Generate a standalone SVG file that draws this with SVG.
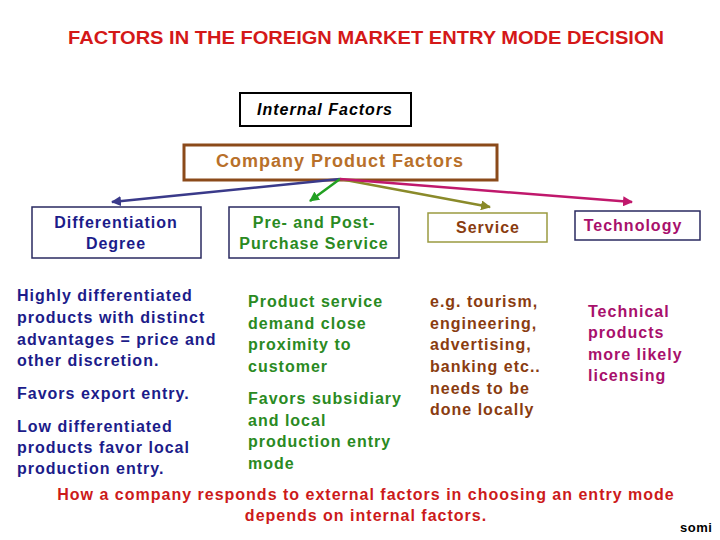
<svg xmlns="http://www.w3.org/2000/svg" width="720" height="540" viewBox="0 0 720 540">
<defs>
<style>
text{font-family:"Liberation Sans",Arial,sans-serif;}
.t{font-size:18px;font-weight:bold;fill:#d41818;}
.b{font-size:16px;font-weight:bold;letter-spacing:1px;}
.nav{fill:#1c1c8a;}
.grn{fill:#2a8a22;}
.brn{fill:#8a3c10;}
.mag{fill:#a8106c;}
.red{fill:#cc1a1a;font-size:16px;font-weight:bold;letter-spacing:1px;}
.box{fill:#fff;stroke:#2a2a60;stroke-width:1.5;}
.c{text-anchor:middle;}
</style>
<marker id="mb" viewBox="0 0 10 10" refX="9" refY="5" markerWidth="4" markerHeight="4" orient="auto"><path d="M0,0L10,5L0,10z" fill="#3a3a8a"/></marker>
<marker id="mg" viewBox="0 0 10 10" refX="9" refY="5" markerWidth="4" markerHeight="4" orient="auto"><path d="M0,0L10,5L0,10z" fill="#22a022"/></marker>
<marker id="mo" viewBox="0 0 10 10" refX="9" refY="5" markerWidth="4" markerHeight="4" orient="auto"><path d="M0,0L10,5L0,10z" fill="#8a8a2a"/></marker>
<marker id="mm" viewBox="0 0 10 10" refX="9" refY="5" markerWidth="4" markerHeight="4" orient="auto"><path d="M0,0L10,5L0,10z" fill="#c0186c"/></marker>
</defs>
<rect width="720" height="540" fill="#fff"/>
<text class="t c" x="366" y="44" textLength="596" lengthAdjust="spacingAndGlyphs">FACTORS IN THE FOREIGN MARKET ENTRY MODE DECISION</text>

<g id="internal">
<rect x="240" y="93" width="171" height="33" fill="#fff" stroke="#000" stroke-width="2"/>
<text class="c" x="325" y="115" font-size="16" font-style="italic" font-weight="bold" letter-spacing="1">Internal Factors</text>
</g>

<g id="company">
<rect x="184" y="145" width="313" height="35" fill="#fff" stroke="#8b4a1a" stroke-width="3"/>
<text class="c" x="340" y="167" font-size="18" font-weight="bold" letter-spacing="1" fill="#b8702a">Company Product Factors</text>
</g>

<g id="connectors" fill="none" stroke-width="2.5">
<line x1="340" y1="179" x2="112" y2="202" stroke="#3a3a8a" marker-end="url(#mb)"/>
<line x1="340" y1="179" x2="310" y2="201" stroke="#22a022" marker-end="url(#mg)"/>
<line x1="340" y1="179" x2="490" y2="207" stroke="#8a8a2a" marker-end="url(#mo)"/>
<line x1="340" y1="179" x2="632" y2="202" stroke="#c0186c" marker-end="url(#mm)"/>
</g>

<g id="differentiation">
<rect class="box" x="32" y="207" width="169" height="51"/>
<text class="b nav c" x="116" y="228">Differentiation</text>
<text class="b nav c" x="116" y="249">Degree</text>
</g>
<g id="prepost">
<rect class="box" x="229" y="207" width="170" height="51"/>
<text class="b grn c" x="314" y="228">Pre- and Post-</text>
<text class="b grn c" x="314" y="249">Purchase Service</text>
</g>
<g id="service">
<rect x="428" y="213" width="119" height="29" fill="#fff" stroke="#9a9a40" stroke-width="1.5"/>
<text class="b brn c" x="488" y="233">Service</text>
</g>
<g id="technology">
<rect class="box" x="575" y="211" width="125" height="29"/>
<text class="b mag c" x="633" y="231">Technology</text>
</g>

<g id="diff-text">
<text class="b nav" x="17" y="301">Highly differentiated</text>
<text class="b nav" x="17" y="323">products with distinct</text>
<text class="b nav" x="17" y="345">advantages = price and</text>
<text class="b nav" x="17" y="366">other discretion.</text>
<text class="b nav" x="17" y="399">Favors export entry.</text>
<text class="b nav" x="17" y="432">Low differentiated</text>
<text class="b nav" x="17" y="453">products favor local</text>
<text class="b nav" x="17" y="474">production entry.</text>
</g>
<g id="prepost-text">
<text class="b grn" x="248" y="307">Product service</text>
<text class="b grn" x="248" y="329">demand close</text>
<text class="b grn" x="248" y="350">proximity to</text>
<text class="b grn" x="248" y="372">customer</text>
<text class="b grn" x="248" y="404">Favors subsidiary</text>
<text class="b grn" x="248" y="426">and local</text>
<text class="b grn" x="248" y="447">production entry</text>
<text class="b grn" x="248" y="469">mode</text>
</g>
<g id="service-text">
<text class="b brn" x="430" y="307">e.g. tourism,</text>
<text class="b brn" x="430" y="329">engineering,</text>
<text class="b brn" x="430" y="350">advertising,</text>
<text class="b brn" x="430" y="372">banking etc..</text>
<text class="b brn" x="430" y="394">needs to be</text>
<text class="b brn" x="430" y="415">done locally</text>
</g>
<g id="tech-text">
<text class="b mag" x="588" y="317">Technical</text>
<text class="b mag" x="588" y="338">products</text>
<text class="b mag" x="588" y="360">more likely</text>
<text class="b mag" x="588" y="381">licensing</text>
</g>
<text class="red c" x="366" y="500">How a company responds to external factors in choosing an entry mode</text>
<text class="red c" x="366" y="521">depends on internal factors.</text>
<text x="680" y="532" font-size="13" font-weight="bold" letter-spacing="0.5" fill="#000">somi</text>
</svg>
